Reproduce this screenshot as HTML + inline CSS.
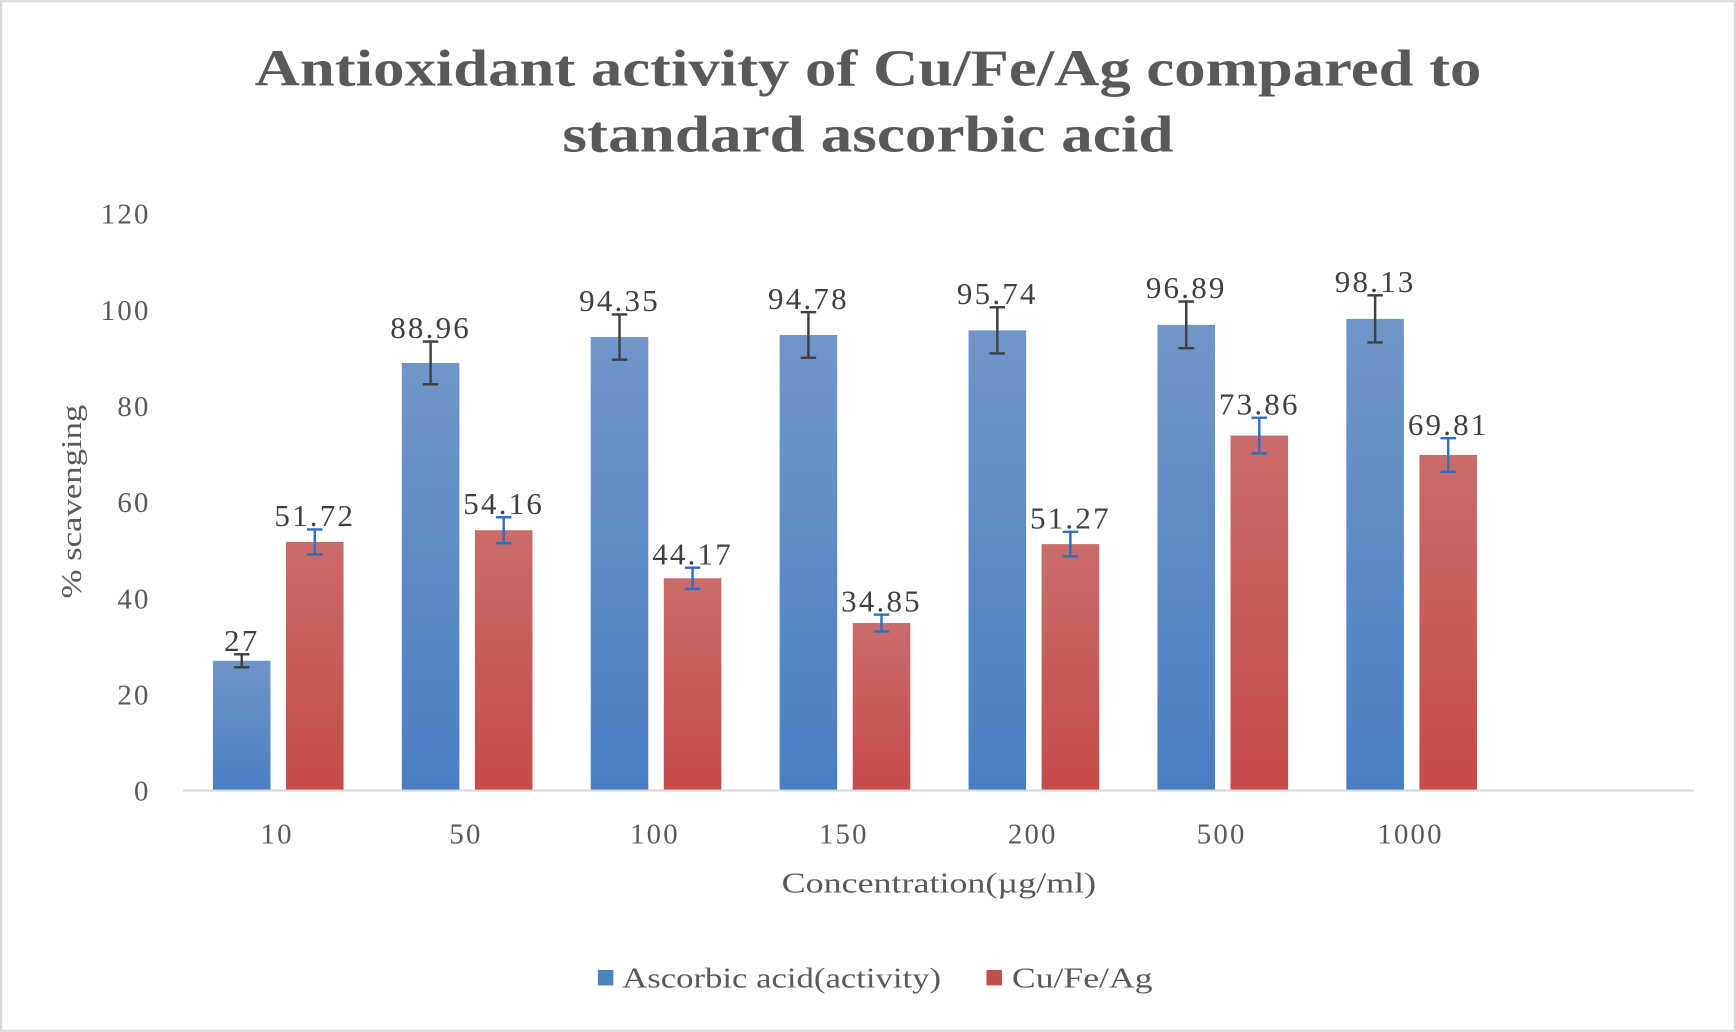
<!DOCTYPE html>
<html><head><meta charset="utf-8"><style>
html,body{margin:0;padding:0;background:#fff;}
svg{display:block;}
text{font-family:"Liberation Serif",serif;fill:#404040;}
</style></head><body>
<svg id="chart" width="1736" height="1032" viewBox="0 0 1568 932" xmlns="http://www.w3.org/2000/svg">
<defs>
<linearGradient id="gb" x1="0" y1="0" x2="0" y2="1"><stop offset="0" stop-color="#7096c9"/><stop offset="1" stop-color="#4a7ec3"/></linearGradient>
<linearGradient id="gr" x1="0" y1="0" x2="0" y2="1"><stop offset="0" stop-color="#c96c6b"/><stop offset="1" stop-color="#c64a48"/></linearGradient>
</defs>
<rect x="1" y="1" width="1566" height="930" fill="#fff" stroke="#d9d9d9" stroke-width="2"/>
<text x="784" y="77" text-anchor="middle" font-size="47" font-weight="bold" textLength="1108" lengthAdjust="spacingAndGlyphs" style="fill:#595959">Antioxidant activity of Cu/Fe/Ag compared to</text>
<text x="784" y="137" text-anchor="middle" font-size="47" font-weight="bold" textLength="552" lengthAdjust="spacingAndGlyphs" style="fill:#595959">standard ascorbic acid</text>
<g id="yaxis"></g>
<g id="bars"></g>
<line x1="165" y1="714" x2="1530" y2="714" stroke="#d9d9d9" stroke-width="2"/>
<g id="xaxis"></g>
<text x="848" y="806" text-anchor="middle" font-size="26" textLength="284" lengthAdjust="spacingAndGlyphs" style="fill:#595959">Concentration(µg/ml)</text>
<text transform="translate(73,453) rotate(-90)" text-anchor="middle" font-size="26" textLength="175" lengthAdjust="spacingAndGlyphs" style="fill:#595959">% scavenging</text>
<g>
<rect x="540" y="876" width="14" height="14" fill="#4f81bd"/>
<text x="562" y="892" font-size="26" textLength="288" lengthAdjust="spacingAndGlyphs" style="fill:#595959">Ascorbic acid(activity)</text>
<rect x="891" y="876" width="14" height="14" fill="#c0504d"/>
<text x="914" y="892" font-size="26" textLength="127" lengthAdjust="spacingAndGlyphs" style="fill:#595959">Cu/Fe/Ag</text>
</g>
</svg>
<script>
const categories = ["10","50","100","150","200","500","1000",""];
const ascorbic = [27, 88.96, 94.35, 94.78, 95.74, 96.89, 98.13];
const cufeag = [51.72, 54.16, 44.17, 34.85, 51.27, 73.86, 69.81];
const ascorbicErr = [1.35, 4.45, 4.7, 4.75, 4.8, 4.85, 4.9];
const cufeagErr = [2.6, 2.7, 2.2, 1.75, 2.55, 3.7, 3.5];
const yTicks = [0,20,40,60,80,100,120];

const NS="http://www.w3.org/2000/svg";
const y0=714, y1=193, yMax=120;
const yS=v=>y0-(v/yMax)*(y0-y1);
const xL=165, slot=(1530-165)/categories.length;
const xC=i=>xL+slot*(i+0.5);
const bw=52;
function mk(tag,attrs,parent){const e=document.createElementNS(NS,tag);for(const k in attrs)e.setAttribute(k,attrs[k]);parent.appendChild(e);return e;}
const ya=document.getElementById('yaxis');
yTicks.forEach(t=>{
  const e=mk('text',{x:136,y:yS(t)+9,'text-anchor':'end','font-size':26,'letter-spacing':2,style:'fill:#595959'},ya);
  
  
  e.textContent=t;
});
const xa=document.getElementById('xaxis');
categories.forEach((c,i)=>{
  if(!c)return;
  const e=mk('text',{x:xC(i),y:762,'text-anchor':'middle','font-size':26,'letter-spacing':2,style:'fill:#595959'},xa);
  
  
  e.textContent=c;
});
const bg=document.getElementById('bars');
function series(vals,errs,off,fill,ec,name){
  vals.forEach((v,i)=>{
    const cx=xC(i)+off;
    const r=mk('rect',{x:cx-bw/2,y:yS(v),width:bw,height:y0-yS(v),fill:fill},bg);
    
    
    const hi=yS(v+errs[i]), lo=yS(v-errs[i]);
    const g=mk('g',{stroke:ec,'stroke-width':2.2},bg);
    
    
    mk('line',{x1:cx,y1:hi,x2:cx,y2:lo},g);
    mk('line',{x1:cx-7,y1:hi,x2:cx+7,y2:hi},g);
    mk('line',{x1:cx-7,y1:lo,x2:cx+7,y2:lo},g);
    const t=mk('text',{x:cx,y:hi-3,'text-anchor':'middle','font-size':28,'letter-spacing':2},bg);
    
    
    t.textContent=v;
  });
}
series(ascorbic,ascorbicErr,-32,'url(#gb)','#404040','ascorbic');
series(cufeag,cufeagErr,34,'url(#gr)','#2f6fc4','cufeag');
</script>
</body></html>
